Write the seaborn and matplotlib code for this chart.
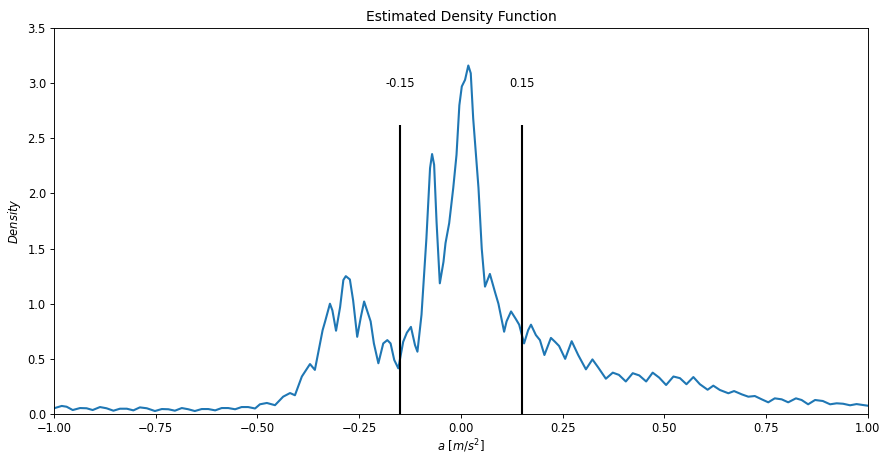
import numpy as np
import pandas as pd
import matplotlib
matplotlib.use("Agg")
import matplotlib.pyplot as plt
import seaborn as sns

# valores (a, densidad)
a_vals = [-1.000, -0.981, -0.969, -0.954, -0.936, -0.920, -0.905, -0.887, -0.871, -0.854,
          -0.838, -0.821, -0.805, -0.789, -0.772, -0.752, -0.735, -0.719, -0.703, -0.686,
          -0.670, -0.654, -0.637, -0.621, -0.604, -0.588, -0.572, -0.555, -0.539, -0.523,
          -0.506, -0.494, -0.477, -0.457, -0.437, -0.420, -0.408, -0.391, -0.371, -0.359,
          -0.340, -0.334, -0.322, -0.316, -0.307, -0.297, -0.289, -0.283, -0.273, -0.265,
          -0.255, -0.246, -0.238, -0.222, -0.214, -0.203, -0.191, -0.181, -0.173, -0.164,
          -0.154, -0.142, -0.133, -0.123, -0.113, -0.107, -0.097, -0.085, -0.076, -0.071,
          -0.066, -0.060, -0.052, -0.043, -0.038, -0.029, -0.019, -0.011, -0.004, 0.002,
          0.010, 0.018, 0.024, 0.030, 0.043, 0.051, 0.059, 0.071, 0.084, 0.092,
          0.106, 0.112, 0.123, 0.135, 0.143, 0.155, 0.165, 0.172, 0.184, 0.194,
          0.205, 0.221, 0.231, 0.241, 0.256, 0.272, 0.288, 0.307, 0.323, 0.337,
          0.356, 0.373, 0.388, 0.405, 0.422, 0.438, 0.455, 0.471, 0.487, 0.504,
          0.522, 0.538, 0.554, 0.571, 0.587, 0.606, 0.620, 0.636, 0.657, 0.671,
          0.690, 0.706, 0.722, 0.739, 0.755, 0.771, 0.788, 0.804, 0.823, 0.837,
          0.853, 0.870, 0.889, 0.907, 0.923, 0.939, 0.956, 0.972, 1.000]
densidad = [0.052, 0.073, 0.066, 0.036, 0.054, 0.052, 0.036, 0.063, 0.052, 0.030,
            0.048, 0.048, 0.033, 0.060, 0.052, 0.027, 0.045, 0.043, 0.030, 0.054,
            0.043, 0.027, 0.045, 0.045, 0.033, 0.054, 0.054, 0.043, 0.063, 0.063,
            0.050, 0.088, 0.100, 0.080, 0.157, 0.190, 0.170, 0.340, 0.453, 0.400,
            0.760, 0.837, 1.000, 0.940, 0.755, 0.970, 1.215, 1.250, 1.220, 1.030,
            0.700, 0.880, 1.020, 0.840, 0.640, 0.460, 0.640, 0.670, 0.640, 0.490,
            0.414, 0.655, 0.737, 0.790, 0.625, 0.565, 0.900, 1.590, 2.230, 2.357,
            2.260, 1.740, 1.185, 1.380, 1.550, 1.730, 2.050, 2.350, 2.800, 2.970,
            3.030, 3.160, 3.090, 2.680, 2.050, 1.500, 1.155, 1.270, 1.100, 1.000,
            0.746, 0.840, 0.930, 0.860, 0.810, 0.640, 0.760, 0.810, 0.716, 0.670,
            0.535, 0.690, 0.655, 0.617, 0.500, 0.660, 0.535, 0.405, 0.495, 0.423,
            0.320, 0.375, 0.355, 0.295, 0.370, 0.350, 0.295, 0.375, 0.330, 0.263,
            0.340, 0.325, 0.270, 0.335, 0.270, 0.220, 0.257, 0.218, 0.188, 0.208,
            0.178, 0.157, 0.163, 0.133, 0.106, 0.142, 0.133, 0.106, 0.142, 0.127,
            0.088, 0.127, 0.118, 0.088, 0.097, 0.093, 0.079, 0.090, 0.075]

umbrales = [-0.15, 0.15]
umbral_etiquetas = ['-0.15', '0.15']
altura_linea = 2.62
altura_texto = 3.0

df = pd.DataFrame({'a': a_vals, 'densidad': densidad})

# la imagen original parece reducida ~0.83, se escala todo
esc = 0.83
plt.rcParams['font.size'] = 10 * esc
plt.rcParams['axes.linewidth'] = 0.8 * esc
plt.rcParams['xtick.major.width'] = 0.8 * esc
plt.rcParams['ytick.major.width'] = 0.8 * esc
plt.rcParams['xtick.major.size'] = 3.5 * esc
plt.rcParams['ytick.major.size'] = 3.5 * esc
plt.rcParams['xtick.major.pad'] = 3.5 * esc
plt.rcParams['ytick.major.pad'] = 3.5 * esc
plt.rcParams['axes.labelpad'] = 4.0 * esc
plt.rcParams['axes.titlepad'] = 6.0 * esc

fig = plt.figure(figsize=(8.81, 4.54), dpi=100)
ax = fig.add_axes([0.0613, 0.0881, 0.9239, 0.8502])

sns.lineplot(data=df, x='a', y='densidad', ax=ax, color='#1f77b4', linewidth=1.5,
             solid_joinstyle='round')

for u, etiqueta in zip(umbrales, umbral_etiquetas):
    ax.vlines(u, 0, altura_linea, color='black', linewidth=1.5)
    ax.text(u, altura_texto, etiqueta, ha='center', va='center')

ticks_x = np.arange(-1, 1.01, 0.25)
ax.set_xlim(-1, 1)
ax.set_ylim(0, 3.5)
ax.set_xticks(ticks_x)
ax.set_yticks(np.arange(0, 3.51, 0.5))
ax.set_xticklabels([f"{t:.2f}".replace('-', '\u2212') for t in ticks_x])
ax.set_title("Estimated Density Function")
ax.set_xlabel(r"$a$ $[m/s^2]$", labelpad=2.0)
ax.set_ylabel(r"$Density$")

fig.savefig('out.png', dpi=100)
